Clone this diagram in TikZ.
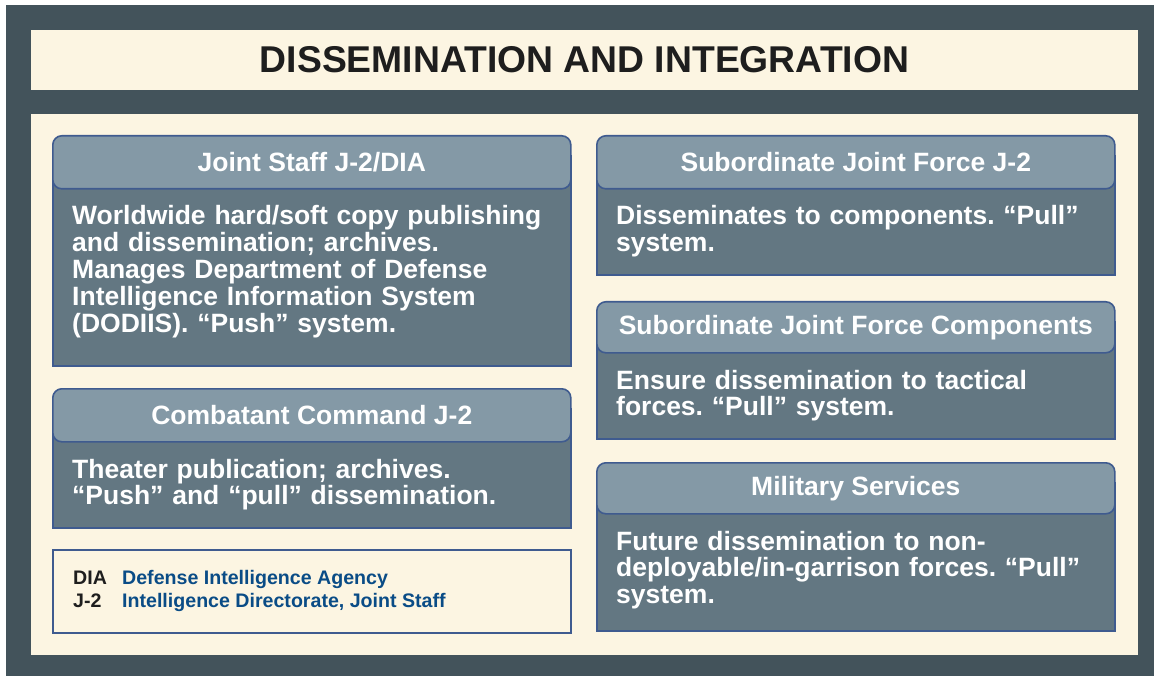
\documentclass[tikz,border=0pt]{standalone}
\usepackage{fontspec}
\setmainfont{Liberation Sans}
\frenchspacing
\definecolor{framecol}{HTML}{43535B}
\definecolor{cream}{HTML}{FCF5E2}
\definecolor{headfill}{HTML}{8499A6}
\definecolor{bodyfill}{HTML}{637782}
\definecolor{edgecol}{HTML}{3F5B8F}
\definecolor{legendblue}{HTML}{0A4C86}
\definecolor{titlecol}{HTML}{1E1E1E}
\tikzset{
  panel/.style={fill=cream, inner sep=0pt},
  bodybox/.style={draw=edgecol, fill=bodyfill, line width=1.6pt, inner sep=0pt,
    minimum width=518pt, anchor=north west},
  headbox/.style={draw=edgecol, fill=headfill, line width=1.6pt, rounded corners=9pt,
    inner sep=0pt, minimum width=518pt, anchor=north west, text=white,
    font=\fontsize{26.5}{28}\selectfont\bfseries},
  bodytext/.style={anchor=base west, inner sep=0pt, text=white, align=left,
    text width=500pt, font=\fontsize{26.5}{26.8}\selectfont\bfseries},
  legendbox/.style={draw=edgecol, fill=cream, line width=1.6pt, inner sep=0pt,
    minimum width=518pt, minimum height=83pt, anchor=north west},
  legendtext/.style={anchor=base west, inner sep=0pt,
    font=\fontsize{19.6}{23}\selectfont\bfseries}
}
\newcommand{\infobox}[7]{%
  \node[bodybox, minimum height={(#5-#3-20)*1pt}] (#1-body) at (#2,#3+20) {};
  \node[headbox, minimum height={(#4-#3)*1pt}] (#1-head) at (#2,#3) {#6};
  \node[bodytext] (#1-text) at (#2+20,#4+37) {#7};
}
\begin{document}
\begin{tikzpicture}[x=1pt,y=-1pt]
\useasboundingbox (0,0) rectangle (1154,676);
\fill[white] (0,0) rectangle (1154,676);
\fill[framecol] (6,5) rectangle (1154,676);
\node[panel, minimum width=1107pt, minimum height=60pt, text=titlecol,
  font=\fontsize{37.3}{40}\selectfont\bfseries] (title) at (584.5,60) {DISSEMINATION AND INTEGRATION};
\node[panel, minimum width=1107pt, minimum height=541pt] (main) at (584.5,384.5) {};

\infobox{js}{52}{135}{188}{365}{Joint Staff J-2/DIA}{Worldwide hard/soft copy publishing\\and dissemination; archives.\\Manages Department of Defense\\Intelligence Information System\\(DODIIS). “Push” system.}
\infobox{cc}{52}{388}{441}{527}{Combatant Command J-2}{Theater publication; archives.\\“Push” and “pull” dissemination.}
\infobox{sj}{596}{135}{188}{274}{Subordinate Joint Force J-2}{Disseminates to components. “Pull”\\system.}
\infobox{sc}{596}{301}{352}{438}{Subordinate Joint Force Components}{Ensure dissemination to tactical\\forces. “Pull” system.}
\infobox{ms}{596}{462}{513}{630}{Military Services}{Future dissemination to non-\\deployable/in-garrison forces. “Pull”\\system.}

\node[legendbox] (legend) at (52,549) {};
\node[legendtext] (legend-text) at (73,584) {\begin{tabular}[t]{@{}p{49pt}@{}l@{}}
\textcolor{titlecol}{DIA} & \textcolor{legendblue}{Defense Intelligence Agency}\\
\textcolor{titlecol}{J-2} & \textcolor{legendblue}{Intelligence Directorate, Joint Staff}
\end{tabular}};
\end{tikzpicture}
\end{document}
